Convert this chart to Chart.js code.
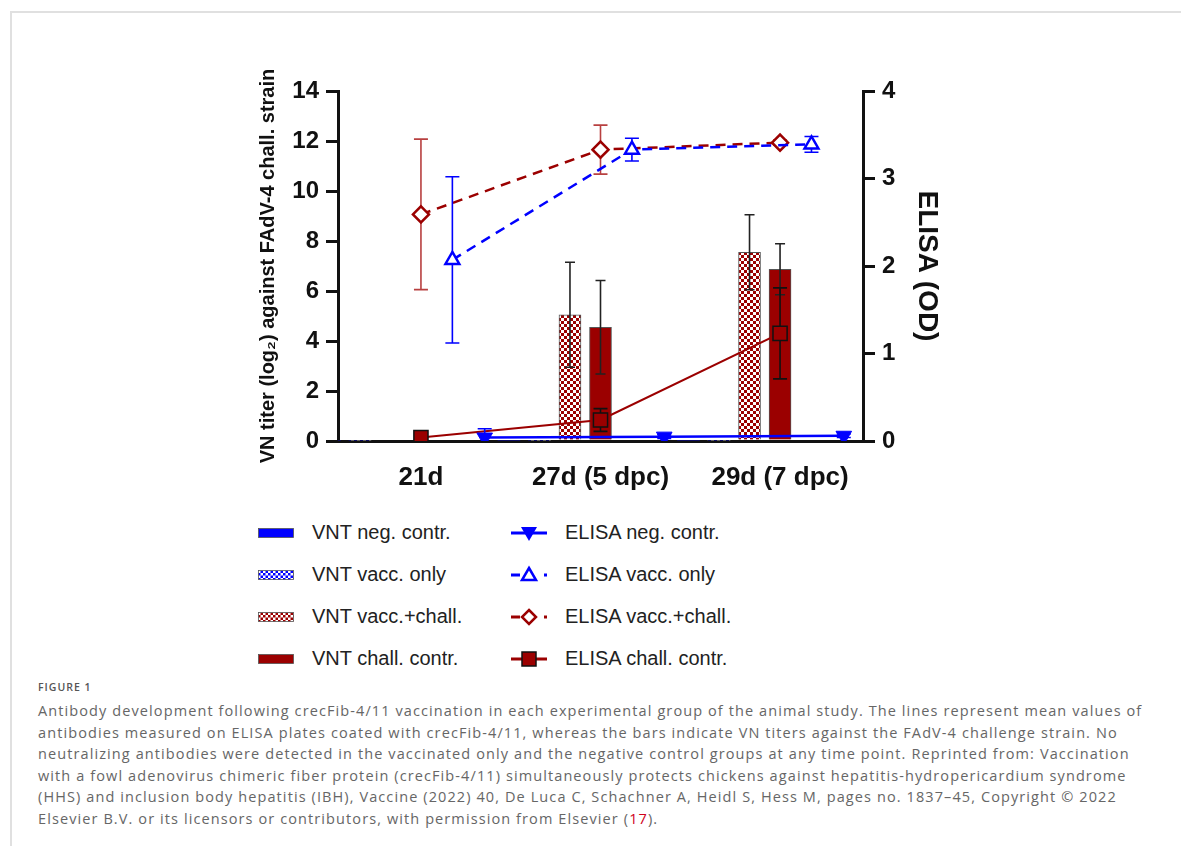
<!DOCTYPE html>
<html>
<head>
<meta charset="utf-8">
<script src="https://cdn.jsdelivr.net/npm/chart.js@4.4.1/dist/chart.umd.min.js"></script>
<style>
  html, body { margin: 0; padding: 0; background: #fff; }
  body { width: 1181px; height: 846px; position: relative; overflow: hidden; font-family: "Liberation Sans", Arial, sans-serif; }
  #frame { position: absolute; left: 10px; top: 11px; width: 1200px; height: 900px; border-top: 2px solid #e0e0e0; border-left: 2px solid #e0e0e0; }
  #wrap { position: absolute; left: 240px; top: 60px; width: 720px; height: 450px; }
  #legend { position: absolute; left: 258px; top: 520px; display: grid; grid-template-columns: 253px 300px; row-gap: 17px; }
  .item { display: flex; align-items: center; height: 25px; font-size: 20px; color: #222; }
  .item svg { margin-right: 18px; flex: none; }
  #caption { position: absolute; left: 38px; top: 680px; color: #666; font-family: "Open Sans", sans-serif; }
  #caption .fig { font-size: 10.5px; font-weight: 600; color: #555; letter-spacing: 1px; margin-bottom: 6px; }
  #caption .ln { font-size: 14.5px; letter-spacing: 1.1px; line-height: 21.5px; white-space: nowrap; }
  #caption .ref { color: #d0021b; }
</style>
</head>
<body>
<div id="frame"></div>
<div id="wrap"><canvas id="chart"></canvas></div>
<div id="legend"></div>
<div id="caption">
  <div class="fig">FIGURE 1</div>
  <div class="ln">Antibody development following crecFib-4/11 vaccination in each experimental group of the animal study. The lines represent mean values of</div>
  <div class="ln">antibodies measured on ELISA plates coated with crecFib-4/11, whereas the bars indicate VN titers against the FAdV-4 challenge strain. No</div>
  <div class="ln">neutralizing antibodies were detected in the vaccinated only and the negative control groups at any time point. Reprinted from: Vaccination</div>
  <div class="ln">with a fowl adenovirus chimeric fiber protein (crecFib-4/11) simultaneously protects chickens against hepatitis-hydropericardium syndrome</div>
  <div class="ln">(HHS) and inclusion body hepatitis (IBH), Vaccine (2022) 40, De Luca C, Schachner A, Heidl S, Hess M, pages no. 1837–45, Copyright © 2022</div>
  <div class="ln">Elsevier B.V. or its licensors or contributors, with permission from Elsevier (<span class="ref">17</span>).</div>
</div>
<script>
// time points
const xLabels = ["21d", "27d (5 dpc)", "29d (7 dpc)"];

// VN titers (log2), left axis
const vntNeg = [0, 0, 0];
const vntVacc = [0, 0, 0];
const vntVaccChall = [0, 5.05, 7.55];
const vntVaccChallErr = [0, 2.1, 1.5];
const vntChall = [0, 4.55, 6.87];
const vntChallErr = [0, 1.87, 1.02];

// ELISA OD, right axis
const elisaNeg = [0.04, 0.05, 0.06];
const elisaNegErr = [0.1, 0.02, 0.02];
const elisaVacc = [2.07, 3.33, 3.39];
const elisaVaccErr = [0.95, 0.13, 0.09];
const elisaVaccChall = [2.59, 3.33, 3.41];
const elisaVaccChallErr = [0.86, 0.28, 0.03];
const elisaChall = [0.04, 0.24, 1.23];
const elisaChallErr = [0, 0.13, 0.52];

const leftTicks = [0, 2, 4, 6, 8, 10, 12, 14];
const rightTicks = [0, 1, 2, 3, 4];

const seriesLabels = {
  vntNeg: "VNT neg. contr.",
  vntVacc: "VNT vacc. only",
  vntVaccChall: "VNT vacc.+chall.",
  vntChall: "VNT chall. contr.",
  elisaNeg: "ELISA neg. contr.",
  elisaVacc: "ELISA vacc. only",
  elisaVaccChall: "ELISA vacc.+chall.",
  elisaChall: "ELISA chall. contr."
};

const BLUE = "#0000ff";
const RED = "#9b0000";

// horizontal place of each group inside a time point
const shift = { vntNeg: -0.51, vntVacc: -0.34, vntVaccChall: -0.17, vntChall: 0, elisaVaccChall: 0, elisaChall: 0, elisaVacc: 0.175, elisaNeg: 0.355 };

function checker(color) {
  const c = document.createElement("canvas");
  c.width = c.height = 6;
  const g = c.getContext("2d");
  g.fillStyle = "#fff";
  g.fillRect(0, 0, 6, 6);
  g.fillStyle = color;
  g.fillRect(0, 0, 3, 3);
  g.fillRect(3, 3, 3, 3);
  return g.createPattern(c, "repeat");
}

const pts = (arr, key) => arr.map((v, i) => ({ x: i + shift[key], y: v }));

function barSet(key, values, errs, fill) {
  return {
    type: "bar", label: seriesLabels[key], data: pts(values, key), errs: errs,
    yAxisID: "y", backgroundColor: fill, borderColor: "#555", borderWidth: values.some(v => v > 0) ? 1 : 0,
    barThickness: 22, grouped: false, order: 2, errColor: "#222", errCap: 5
  };
}

function lineSet(key, values, errs, o) {
  return Object.assign({
    type: "line", label: seriesLabels[key], data: pts(values, key), errs: errs,
    yAxisID: "y2", fill: false, borderWidth: 2.5, pointBorderWidth: 2.5, order: 1, errCap: 7
  }, o);
}

const errorBars = {
  id: "errorBars",
  draw(chart, args) {
    const ds = chart.data.datasets[args.index];
    if (!ds.errs) return;
    const sc = chart.scales[ds.yAxisID];
    const ctx = chart.ctx;
    ctx.save();
    ctx.strokeStyle = ds.errColor;
    ctx.lineWidth = 1.6;
    args.meta.data.forEach((el, i) => {
      const e = ds.errs[i];
      if (!e) return;
      const v = ds.data[i].y;
      const x = el.x;
      const y1 = sc.getPixelForValue(v + e), y0 = sc.getPixelForValue(Math.max(v - e, 0));
      ctx.beginPath();
      ctx.moveTo(x, y1); ctx.lineTo(x, y0);
      ctx.moveTo(x - ds.errCap, y1); ctx.lineTo(x + ds.errCap, y1);
      if (v - e > 0) { ctx.moveTo(x - ds.errCap, y0); ctx.lineTo(x + ds.errCap, y0); }
      ctx.stroke();
    });
    ctx.restore();
  },
  beforeDatasetDraw(chart, args) { if (args.meta.type === "line") this.draw(chart, args); },
  afterDatasetDraw(chart, args) { if (args.meta.type === "bar") this.draw(chart, args); }
};

const tickFont = { family: "Liberation Sans", size: 24, weight: "bold" };

new Chart(document.getElementById("chart"), {
  type: "bar",
  data: {
    datasets: [
      barSet("vntNeg", vntNeg, null, BLUE),
      barSet("vntVacc", vntVacc, null, checker(BLUE)),
      barSet("vntVaccChall", vntVaccChall, vntVaccChallErr, checker(RED)),
      barSet("vntChall", vntChall, vntChallErr, RED),
      lineSet("elisaNeg", elisaNeg, elisaNegErr, {
        borderColor: BLUE, pointStyle: "triangle", rotation: 180, pointRadius: 9,
        pointBackgroundColor: BLUE, pointBorderColor: BLUE, pointBorderWidth: 1, errColor: BLUE
      }),
      lineSet("elisaVacc", elisaVacc, elisaVaccErr, {
        borderColor: BLUE, borderDash: [10, 7], pointStyle: "triangle", pointRadius: 8,
        pointBackgroundColor: "#fff", pointBorderColor: BLUE, errColor: BLUE
      }),
      lineSet("elisaVaccChall", elisaVaccChall, elisaVaccChallErr, {
        borderColor: RED, borderDash: [10, 7], pointStyle: "rectRot", pointRadius: 8,
        pointBackgroundColor: "#fff", pointBorderColor: RED, errColor: "#b84040"
      }),
      lineSet("elisaChall", elisaChall, elisaChallErr, {
        borderColor: RED, borderWidth: 2.2, pointStyle: "rect", pointRadius: 10,
        pointBackgroundColor: RED, pointBorderColor: "#111", pointBorderWidth: 1.5, errColor: "#111"
      })
    ]
  },
  options: {
    responsive: true,
    maintainAspectRatio: false,
    animation: false,
    layout: { padding: { top: 31, left: 0, right: 0, bottom: 0 } },
    plugins: { legend: { display: false }, tooltip: { enabled: false } },
    scales: {
      x: {
        type: "linear", min: -0.462, max: 2.462, offset: false,
        afterBuildTicks: (s) => { s.ticks = xLabels.map((_, i) => ({ value: i })); },
        afterFit: (s) => { s.height = 69; },
        grid: { display: false },
        border: { color: "#111", width: 3 },
        ticks: { padding: 13, color: "#111", font: { family: "Liberation Sans", size: 26, weight: "bold" }, callback: (v) => xLabels[v] }
      },
      y: {
        position: "left", min: 0, max: 14,
        afterBuildTicks: (s) => { s.ticks = leftTicks.map(v => ({ value: v })); },
        afterFit: (s) => { s.width = 98; },
        grid: { drawOnChartArea: false, color: "#111", lineWidth: 3, tickLength: 12 },
        border: { color: "#111", width: 3 },
        ticks: { padding: 7, color: "#111", font: tickFont },
        title: { display: true, text: "VN titer (log\u2082) against FAdV-4 chall. strain", color: "#111",
          font: { family: "Liberation Sans", size: 20, weight: "bold" }, padding: { top: 16, bottom: 0 } }
      },
      y2: {
        position: "right", min: 0, max: 4,
        afterBuildTicks: (s) => { s.ticks = rightTicks.map(v => ({ value: v })); },
        afterFit: (s) => { s.width = 97; },
        grid: { drawOnChartArea: false, color: "#111", lineWidth: 3, tickLength: 12 },
        border: { color: "#111", width: 3 },
        ticks: { padding: 7, color: "#111", font: tickFont },
        title: { display: true, text: "ELISA (OD)", color: "#111",
          font: { family: "Liberation Sans", size: 28, weight: "bold" }, padding: { top: 16, bottom: 0 } }
      }
    }
  },
  plugins: [errorBars]
});

// legend (two columns: VNT bars, ELISA lines)
const chk = (id, c) => `<pattern id="${id}" width="5" height="5" patternUnits="userSpaceOnUse"><rect width="5" height="5" fill="#fff"/><rect width="2.5" height="2.5" fill="${c}"/><rect x="2.5" y="2.5" width="2.5" height="2.5" fill="${c}"/></pattern>`;
const boxIcon = (fill, defs) => `<svg width="36" height="14">${defs ? "<defs>" + defs + "</defs>" : ""}<rect x="0.5" y="2.5" width="35" height="9" fill="${fill}" stroke="#555" stroke-width="0.8"/></svg>`;
const lineIcon = (color, dashed, marker) => {
  const ln = dashed
    ? `<line x1="0" y1="12" x2="9" y2="12" stroke="${color}" stroke-width="3"/><line x1="33" y1="12" x2="36" y2="12" stroke="${color}" stroke-width="3"/>`
    : `<line x1="0" y1="12" x2="36" y2="12" stroke="${color}" stroke-width="3"/>`;
  return `<svg width="36" height="24">${ln}${marker}</svg>`;
};
const legendItems = [
  [seriesLabels.vntNeg, boxIcon(BLUE)],
  [seriesLabels.elisaNeg, lineIcon(BLUE, false, `<polygon points="10,6 26,6 18,20" fill="${BLUE}"/>`)],
  [seriesLabels.vntVacc, boxIcon("url(#cb)", chk("cb", BLUE))],
  [seriesLabels.elisaVacc, lineIcon(BLUE, true, `<polygon points="18,5 25,17 11,17" fill="#fff" stroke="${BLUE}" stroke-width="2.5"/>`)],
  [seriesLabels.vntVaccChall, boxIcon("url(#cr)", chk("cr", RED))],
  [seriesLabels.elisaVaccChall, lineIcon(RED, true, `<polygon points="18,5 25,12 18,19 11,12" fill="#fff" stroke="${RED}" stroke-width="2.5"/>`)],
  [seriesLabels.vntChall, boxIcon(RED)],
  [seriesLabels.elisaChall, lineIcon(RED, false, `<rect x="11" y="5" width="14" height="14" fill="${RED}" stroke="#111" stroke-width="1.5"/>`)]
];
document.getElementById("legend").innerHTML = legendItems
  .map(([t, icon]) => `<div class="item">${icon}<span>${t}</span></div>`).join("");
</script>
</body>
</html>
